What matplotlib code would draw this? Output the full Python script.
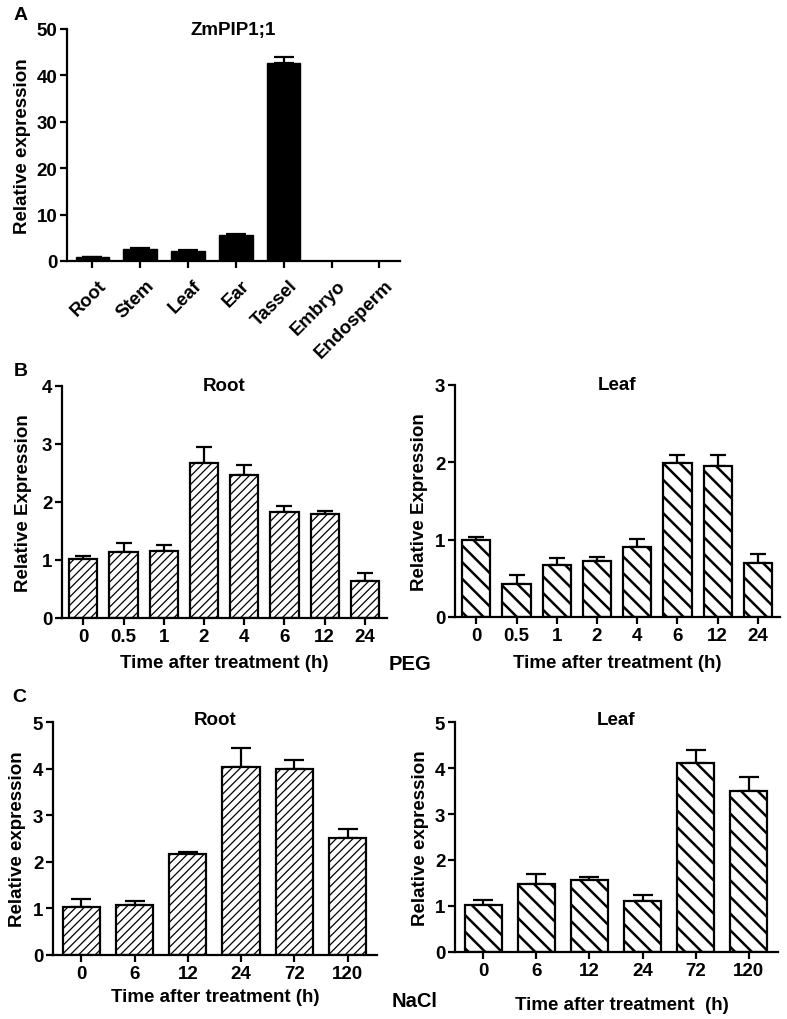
import matplotlib
matplotlib.use('Agg')
import matplotlib.pyplot as plt
import matplotlib.transforms as mtransforms
import numpy as np

plt.rcParams['font.family'] = ['Liberation Sans', 'DejaVu Sans']
plt.rcParams['font.weight'] = 'bold'
plt.rcParams['axes.labelweight'] = 'bold'
plt.rcParams['font.size'] = 13.5

# Data
tissues = ['Root', 'Stem', 'Leaf', 'Ear', 'Tassel', 'Embryo', 'Endosperm']
tissue_expr = [0.9, 2.6, 2.2, 5.5, 42.7, 0, 0]
tissue_err = [0.05, 0.1, 0.2, 0.4, 1.3, 0, 0]

peg_times = ['0', '0.5', '1', '2', '4', '6', '12', '24']
peg_root = [1.02, 1.13, 1.16, 2.67, 2.47, 1.83, 1.80, 0.63]
peg_root_err = [0.05, 0.16, 0.10, 0.28, 0.17, 0.10, 0.05, 0.15]
peg_leaf = [1.00, 0.43, 0.67, 0.72, 0.91, 1.99, 1.95, 0.70]
peg_leaf_err = [0.04, 0.11, 0.09, 0.06, 0.10, 0.11, 0.15, 0.12]

nacl_times = ['0', '6', '12', '24', '72', '120']
nacl_root = [1.04, 1.08, 2.17, 4.04, 3.99, 2.51]
nacl_root_err = [0.16, 0.08, 0.05, 0.41, 0.19, 0.19]
nacl_leaf = [1.03, 1.47, 1.56, 1.11, 4.10, 3.50]
nacl_leaf_err = [0.11, 0.23, 0.08, 0.12, 0.29, 0.30]

W, H = 787, 1020
fig = plt.figure(figsize=(W / 100, H / 100), dpi=100)
FS = 13.5


def make_axes(left, right, top, bottom):
    # pixel box -> figure fraction
    return fig.add_axes([left / W, 1 - bottom / H, (right - left) / W, (bottom - top) / H])


def style(ax, ymax, ystep):
    for s in ['top', 'right']:
        ax.spines[s].set_visible(False)
    for s in ['left', 'bottom']:
        ax.spines[s].set_linewidth(1.6)
    ax.set_ylim(0, ymax)
    ax.set_yticks(np.arange(0, ymax + 0.01, ystep))
    ax.tick_params(width=1.6, length=5, pad=2, labelsize=FS)


def bar_panel(ax, labels, vals, errs, hatch, hlw, capsize):
    x = np.arange(len(labels))
    bars = ax.bar(x, vals, width=0.7, color='white', edgecolor='black',
                  linewidth=1.6, hatch=hatch, zorder=2)
    for b in bars:
        try:
            b.set_hatch_linewidth(hlw)
        except AttributeError:
            pass
    ax.errorbar(x, vals, yerr=[np.zeros(len(vals)), errs], fmt='none',
                ecolor='black', elinewidth=1.6, capsize=capsize, capthick=1.6, zorder=1)
    ax.set_xticks(x)
    ax.set_xticklabels(labels)
    ax.set_xlim(-0.53, len(labels) - 1 + 0.55)
    return x


def labels(ax, ylab, ylx, xlab, xlx, xly, title, ty=1.0):
    ax.set_ylabel(ylab, fontsize=FS)
    ax.yaxis.set_label_coords(ylx, 0.5)
    ax.yaxis.label.set_va('center')
    if xlab:
        ax.set_xlabel(xlab, fontsize=FS)
        ax.xaxis.set_label_coords(xlx, xly)
        ax.xaxis.label.set_va('center')
    ax.text(0.5, ty, title, transform=ax.transAxes, ha='center', va='center', fontsize=FS)


# Panel A
axA = make_axes(67, 400, 30, 262)
style(axA, 50, 10)
xa = np.arange(len(tissues))
axA.bar(xa, tissue_expr, width=0.7, color='black', edgecolor='black', linewidth=1, zorder=2)
mask = np.array(tissue_err) > 0
axA.errorbar(xa[mask], np.array(tissue_expr)[mask],
             yerr=[np.zeros(mask.sum()), np.array(tissue_err)[mask]],
             fmt='none', ecolor='black', elinewidth=1.6, capsize=7, capthick=1.6, zorder=1)
axA.set_xticks(xa)
axA.set_xticklabels(tissues, rotation=45, ha='right', va='top', rotation_mode='anchor')
axA.tick_params(axis='x', pad=6)
shift = mtransforms.ScaledTranslation(0.05, 0, fig.dpi_scale_trans)
for lab in axA.get_xticklabels():
    lab.set_transform(lab.get_transform() + shift)
axA.set_xlim(-0.53, 6.43)
labels(axA, 'Relative expression', -0.135, None, 0, 0, 'ZmPIP1;1')

# Panel B - PEG
axBr = make_axes(62, 387, 387, 619)
style(axBr, 4, 1)
bar_panel(axBr, peg_times, peg_root, peg_root_err, '////', 0.9, 5.5)
labels(axBr, 'Relative Expression', -0.117, 'Time after treatment (h)', 0.5, -0.19, 'Root')

axBl = make_axes(455, 780, 386, 618)
style(axBl, 3, 1)
bar_panel(axBl, peg_times, peg_leaf, peg_leaf_err, '\\\\', 1.8, 5.5)
labels(axBl, 'Relative Expression', -0.108, 'Time after treatment (h)', 0.5, -0.194, 'Leaf')

# Panel C - NaCl
axCr = make_axes(53, 377, 723, 956)
style(axCr, 5, 1)
bar_panel(axCr, nacl_times, nacl_root, nacl_root_err, '////', 0.9, 7)
labels(axCr, 'Relative expression', -0.111, 'Time after treatment (h)', 0.5, -0.176, 'Root', 1.01)

axCl = make_axes(455, 778, 723, 953)
style(axCl, 5, 1)
bar_panel(axCl, nacl_times, nacl_leaf, nacl_leaf_err, '\\\\', 1.8, 7)
labels(axCl, 'Relative expression', -0.108, 'Time after treatment  (h)', 0.517, -0.23, 'Leaf', 1.01)

# Panel letters and treatment labels
fig.text(21 / W, 1 - 15 / H, 'A', ha='center', va='center', fontsize=14)
fig.text(21 / W, 1 - 371 / H, 'B', ha='center', va='center', fontsize=14)
fig.text(19 / W, 1 - 697 / H, 'C', ha='center', va='center', fontsize=14)
fig.text(410 / W, 1 - 664 / H, 'PEG', ha='center', va='center', fontsize=14.5)
fig.text(415 / W, 1 - 1002 / H, 'NaCl', ha='center', va='center', fontsize=14.5)

fig.savefig('out.png', dpi=100)
